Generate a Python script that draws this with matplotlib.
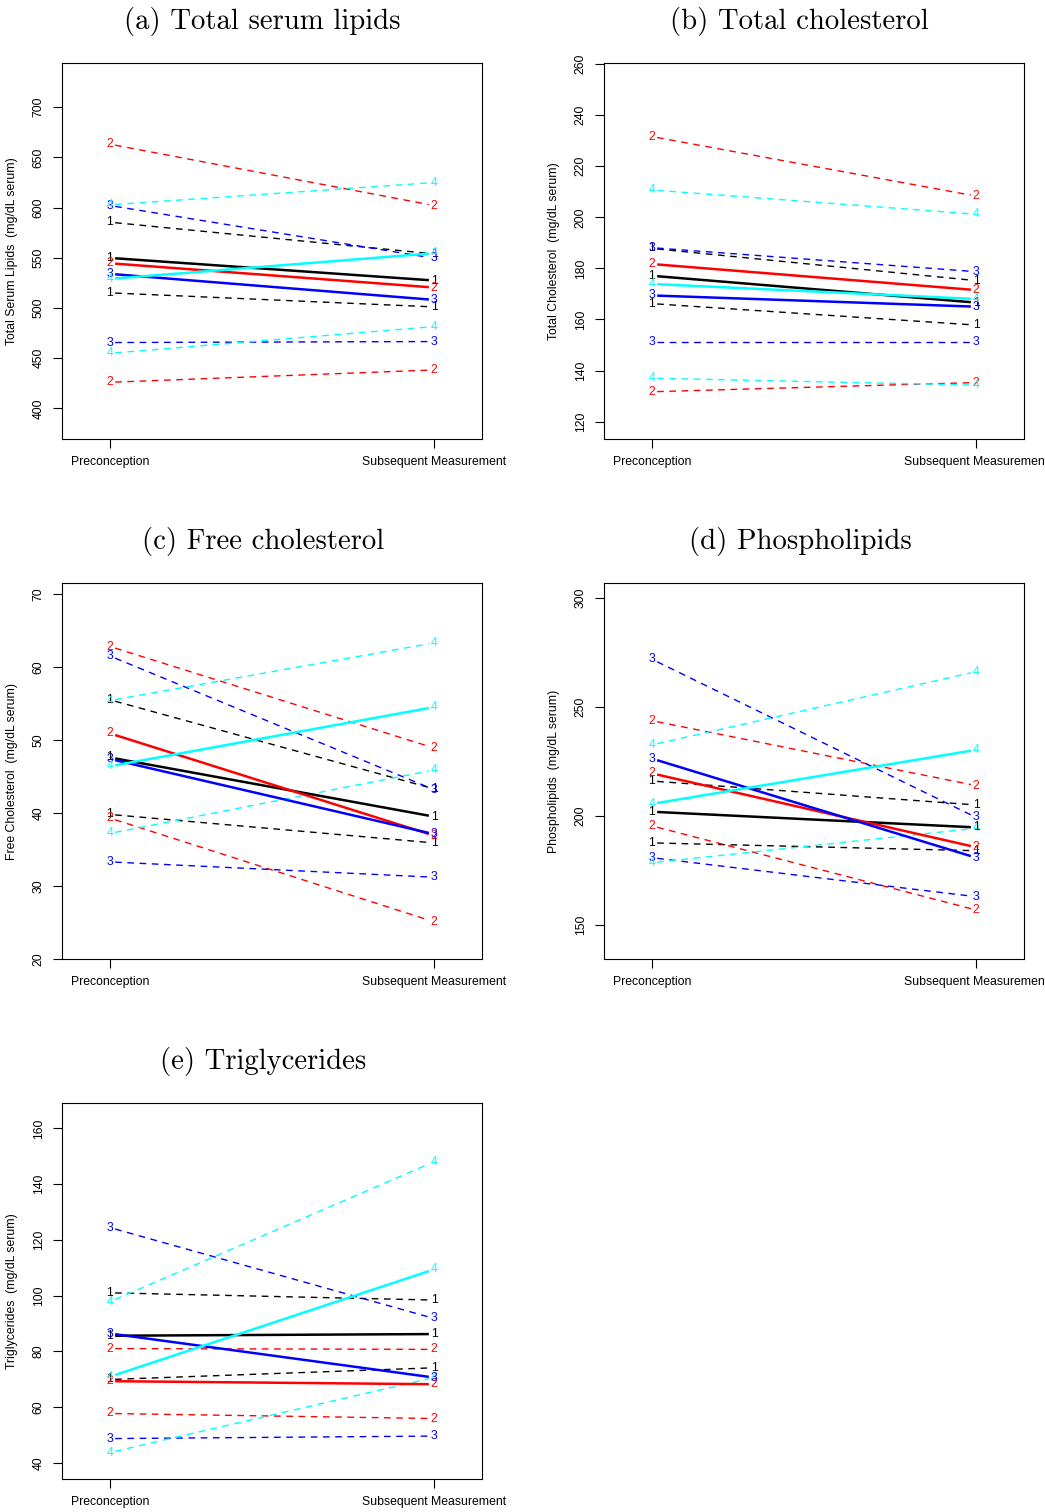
import matplotlib as mpl
mpl.use('Agg')
import matplotlib.pyplot as plt
import numpy as np

plt.rcParams['font.family'] = ['Liberation Sans', 'DejaVu Sans']
plt.rcParams['lines.scale_dashes'] = False

# x categories
timepoints = ['Preconception', 'Subsequent Measurement']
groups = ['1', '2', '3', '4']
group_colors = ['black', 'red', 'blue', 'cyan']

# values: one [preconception, subsequent] pair per group (1..4)
# (a) total serum lipids
lipids_mean = [[549.8, 527.3], [544.5, 520.3], [533.9, 508.0], [528.9, 554.5]]
lipids_upper = [[585.4, 553.8], [663.1, 602.0], [602.0, 549.5], [602.7, 624.9]]
lipids_lower = [[515.0, 501.0], [425.9, 438.2], [465.5, 466.5], [454.8, 481.4]]

# (b) total cholesterol
chol_mean = [[177.1, 166.6], [181.7, 171.5], [169.4, 165.0], [173.9, 168.0]]
chol_upper = [[187.8, 175.2], [231.6, 208.3], [188.1, 178.7], [210.7, 201.2]]
chol_lower = [[166.2, 157.8], [131.7, 135.3], [151.3, 151.3], [137.0, 134.3]]

# (c) free cholesterol
free_mean = [[47.6, 39.5], [50.9, 36.9], [47.4, 37.1], [46.4, 54.5]]
free_upper = [[55.5, 43.3], [62.8, 48.9], [61.5, 43.2], [55.4, 63.3]]
free_lower = [[39.8, 35.9], [39.3, 25.1], [33.3, 31.2], [37.2, 45.9]]

# (d) phospholipids
phos_mean = [[202.0, 194.8], [219.6, 185.7], [226.4, 180.9], [205.6, 230.4]]
phos_upper = [[216.1, 205.1], [243.8, 214.0], [272.0, 199.4], [232.7, 266.3]]
phos_lower = [[187.7, 184.1], [195.5, 156.9], [180.9, 163.0], [178.6, 194.4]]

# (e) triglycerides
trig_mean = [[85.6, 86.2], [69.3, 68.2], [86.4, 70.6], [70.9, 109.4]]
trig_upper = [[101.0, 98.4], [81.0, 80.7], [124.4, 91.8], [97.8, 148.0]]
trig_lower = [[69.9, 74.1], [57.7, 55.9], [48.7, 49.6], [43.7, 70.6]]

titles = ['(a) Total serum lipids', '(b) Total cholesterol', '(c) Free cholesterol',
          '(d) Phospholipids', '(e) Triglycerides']
ylabels = ['Total Serum Lipids  (mg/dL serum)', 'Total Cholesterol  (mg/dL serum)',
           'Free Cholesterol  (mg/dL serum)', 'Phospholipids  (mg/dL serum)',
           'Triglycerides  (mg/dL serum)']
yticks = [np.arange(400, 701, 50), np.arange(120, 261, 20), np.arange(20, 71, 10),
          np.arange(150, 301, 50), np.arange(40, 161, 20)]
ylims = [(369.4, 744), (113.2, 260.4), (20, 71.5), (134.4, 307), (34.2, 169.1)]
panels = [(lipids_mean, lipids_upper, lipids_lower),
          (chol_mean, chol_upper, chol_lower),
          (free_mean, free_upper, free_lower),
          (phos_mean, phos_upper, phos_lower),
          (trig_mean, trig_upper, trig_lower)]

W, H = 1045, 1512
fig = plt.figure(figsize=(W / 100, H / 100), dpi=100)

# pixel boxes of the plot regions (left, top)
boxes = [(62, 63), (604, 63), (62, 583), (604, 583), (62, 1103)]
title_pos = [(262, 21), (799, 21), (263, 541), (800, 541), (263, 1061)]
bw, bh = 420, 376
gap = 0.016
fs = 8.8

for k in range(5):
    l, t = boxes[k]
    ax = fig.add_axes([l / W, 1 - (t + bh) / H, bw / W, bh / H])
    mean, upper, lower = panels[k]
    x = np.array([1.0, 2.0])
    for sty, data in [('dash', upper), ('dash', lower), ('solid', mean)]:
        for g in range(4):
            y0, y1 = data[g]
            xs = [1 + gap, 2 - gap]
            ys = [y0 + (y1 - y0) * gap, y1 - (y1 - y0) * gap]
            if sty == 'solid':
                ax.plot(xs, ys, color=group_colors[g], lw=1.8, solid_capstyle='butt')
            else:
                ax.plot(xs, ys, color=group_colors[g], lw=1.0,
                        linestyle=(0, (4.8, 4.0)))
            for xi, yi in zip(x, data[g]):
                ax.text(xi, yi, groups[g], color=group_colors[g], fontsize=fs,
                        ha='center', va='center')
    ax.set_xlim(0.852, 2.148)
    ax.set_ylim(*ylims[k])
    ax.set_xticks([1, 2])
    ax.set_xticklabels(timepoints)
    ax.set_yticks(yticks[k])
    ax.set_yticklabels([str(v) for v in yticks[k]], rotation=90, va='center')
    ax.tick_params(direction='out', length=6.5, width=0.8, labelsize=fs, pad=6)
    for s in ax.spines.values():
        s.set_linewidth(0.8)
    ax.text(-0.119, 0.5, ylabels[k], transform=ax.transAxes, rotation=90,
            ha='center', va='center', fontsize=fs)
    tx, ty = title_pos[k]
    fig.text(tx / W, 1 - ty / H, titles[k], family='cmr10', fontsize=20.7,
             ha='center', va='center')

plt.savefig('out.png', dpi=100)
plt.close(fig)
